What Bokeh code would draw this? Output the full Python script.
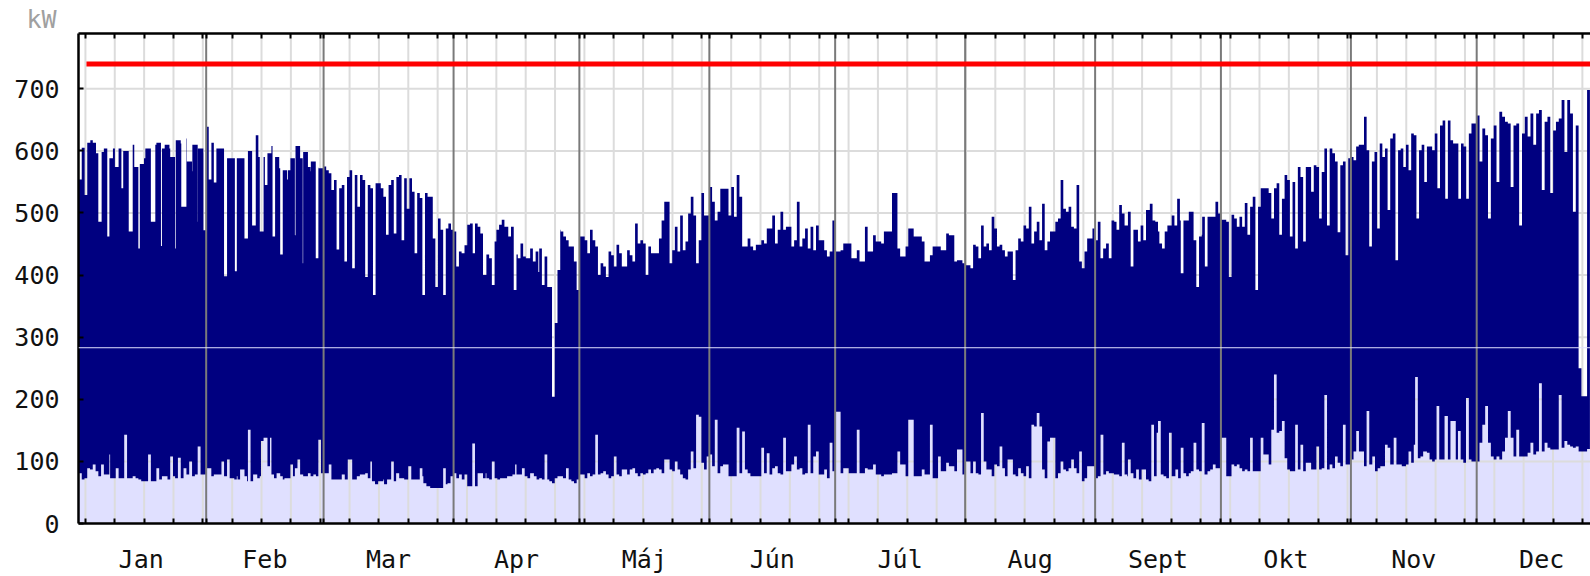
import numpy as np
from bokeh.plotting import figure
from bokeh.models import Range1d, LinearAxis, FixedTicker, Span
from bokeh.embed import file_html
from bokeh.resources import INLINE

# ---------------- data ----------------
months = ["Jan", "Feb", "Mar", "Apr", "Máj", "Jún", "Júl", "Aug", "Sept", "Okt", "Nov", "Dec"]
month_days = [31, 28, 31, 30, 31, 30, 31, 31, 30, 31, 30, 31]
# days of each month covered by the readings (December visible only to ~27th)
read_span = [31, 28, 31, 30, 31, 30, 31, 31, 30, 31, 30, 27]

max_jan = [435,554,605,529,613,617,613,596,486,598,604,462,588,604,574,604,540,600,600,470,610,574,443,579,588,604,604,486,610,613,447,604,610,604,590,443,617,612,510,620,583,567,610,486,604,596,472]
max_feb = [639,554,613,549,604,604,604,398,588,588,588,406,588,588,588,459,600,600,480,625,590,470,590,545,596,608,462,590,572,433,569,554,569,588,464,608,588,419,598,574,567,583,427,574,572,569]
max_mar = [575,569,564,537,553,441,540,545,422,558,569,411,561,510,561,553,397,545,540,368,548,548,540,526,465,545,553,467,558,561,456,556,507,556,534,435,532,524,368,532,526,526,459,381,491,473,368,475,483,473]
max_apr = [470,414,438,435,448,481,483,435,483,478,467,400,433,427,384,454,473,481,489,478,462,478,376,433,427,451,430,427,443,422,438,405,443,384,430,381,204,323,408,473,470,462,456,446,422,376,446]
max_may = [462,456,435,473,456,446,400,419,416,414,397,438,432,414,449,435,414,440,432,422,483,451,456,451,446,400,446,435,435,435,459,488,518,419,440,478,438,496,440,454,467,499,526,496,419,456,532,496,496]
max_jun = [542,518,488,502,539,539,496,542,494,561,526,518,446,446,459,446,440,449,456,451,475,475,532,496,451,473,502,473,478,446,456,518,446,459,459,475,443,478,440,480,456,440,430,438,488,488]
max_jul = [438,430,440,451,443,451,427,443,440,422,432,478,438,462,464,454,510,451,470,496,470,532,470,443,430,446,446,475,451,462,462,435,454,422,432,432,446,467,446,440,467,467,464,480,422,424,440,419]
max_aug = [416,411,449,446,427,480,446,451,451,440,494,475,446,449,440,430,438,392,440,459,454,480,475,510,451,451,470,486,456,515,440,454,470,486,491,553,507,502,510,478,513,475,545,422,411,438,459,459,475]
max_sep = [456,486,427,443,451,427,488,486,473,513,499,480,502,414,473,473,454,480,456,505,515,488,486,470,451,443,470,480,496,480,523,488,403,488,488,502,456,381,462,465,494,414,494,494,518,499,438]
max_oct = [489,486,397,497,491,478,494,478,507,516,465,510,526,376,510,540,540,532,491,540,548,465,523,561,483,553,462,550,443,574,558,454,574,534,577,574,491,566,604,480,583,604,596,583,469,577,583,432,588]
max_nov = [590,585,607,610,610,655,601,446,583,598,475,612,590,604,505,620,628,424,601,604,574,610,569,628,625,491,601,610,550,607,607,601,628,540,641,649,523,649,617,612,612,523,612,607,523,628,644,644]
max_dec = [657,583,636,625,491,620,641,550,663,655,647,644,542,641,644,480,628,655,623,660,610,660,666,537,647,655,532,633,647,652,682,598,682,660,502,641,250,205,205,698]

min_jan = [81,71,73,89,87,95,84,76,95,79,79,111,73,73,89,73,73,143,73,73,76,73,71,68,68,111,68,68,89,71,76,76,71,108,76,73,106,73,89,79,100,76,79,124,79,79]
min_feb = [89,76,79,79,79,100,76,76,103,73,71,76,71,87,76,68,151,68,79,73,76,133,138,92,138,79,73,81,76,71,73,73,95,76,89,103,79,76,76,81,76,79,76,135,81]
min_mar = [81,95,71,71,71,71,79,71,103,71,71,76,79,81,73,100,68,63,68,71,63,71,100,68,81,73,71,71,92,71,71,89,76,65,60,57,57,57,57,89,63,65,76]
min_apr = [81,73,79,71,79,60,129,60,81,81,73,81,73,71,100,73,71,73,73,76,76,79,95,79,79,89,76,73,81,76,71,73,71,111,71,68,65,73,76,76,73,89,71,68,65,71]
min_may = [79,73,81,76,79,143,79,81,87,84,79,73,76,108,79,76,87,79,87,89,81,76,81,79,79,81,87,81,87,89,87,81,103,87,84,100,87,79,73,71,178,87,116,89,175,172,98,87,108]
min_jun = [111,92,167,81,92,95,76,76,76,154,81,132,148,87,81,76,76,76,122,81,113,79,84,89,92,81,79,138,84,95,108,87,89,79,87,81,159,81,108,116,79,87,73,130,84,81]
min_jul = [180,87,81,89,81,81,81,87,151,81,81,89,87,81,95,79,130,76,79,122,79,81,89,116,95,81,76,167,76,76,76,79,87,79,73,159,73,76,108,84,87,98,92,124,84,119,92,79]
min_aug = [100,81,100,81,79,178,100,87,76,87,76,95,92,124,89,76,103,79,76,89,81,76,92,73,159,159,156,178,156,87,73,132,138,73,81,100,87,84,89,103,132,89,81,116,68,73,92,92,92]
min_sep = [73,76,143,79,84,81,79,79,76,130,79,76,103,81,73,87,71,87,71,68,159,76,146,165,79,76,73,146,76,87,73,122,81,76,81,84,130,87,84,162,79,84,87,95,89,89]
min_oct = [138,76,76,95,92,95,89,84,138,87,84,138,84,84,84,138,111,95,151,240,146,149,165,105,89,87,84,84,159,87,127,84,98,87,87,124,87,89,207,87,84,95,89,108,98,92,159,95,95]
min_nov = [103,116,149,116,92,181,95,95,108,84,89,92,127,122,95,95,138,95,95,92,95,116,98,127,236,105,108,116,114,103,100,103,189,103,103,173,103,165,165,103,149,103,98,202,103,100,100]
min_dec = [100,130,159,189,130,108,103,108,103,116,138,181,138,108,151,108,108,108,114,130,111,116,226,116,130,122,119,119,119,207,122,133,127,124,122,124,116,116,116,120]

limit_days = [2.45, 362.0]   # red limit line
limit_kw = [740, 740]
rule_kw = 283                # thin light rule
y_ticks = [0, 100, 200, 300, 400, 500, 600, 700]
week_first_day = 2.2

max_lists = [max_jan, max_feb, max_mar, max_apr, max_may, max_jun, max_jul, max_aug, max_sep, max_oct, max_nov, max_dec]
min_lists = [min_jan, min_feb, min_mar, min_apr, min_may, min_jun, min_jul, min_aug, min_sep, min_oct, min_nov, min_dec]

# ---------------- derived ----------------
month_start = list(np.cumsum([0] + month_days[:-1]).astype(float))
month_mid = [s + d / 2.0 for s, d in zip(month_start, month_days)]
weeks = [week_first_day + 7 * k for k in range(52)]


def edges_values(lists):
    e, v = [], []
    for m, vals in enumerate(lists):
        w = read_span[m] / len(vals)
        for i, val in enumerate(vals):
            e.append(month_start[m] + i * w)
            v.append(val)
    e.append(month_start[-1] + read_span[-1])
    return np.array(e), np.array(v, dtype=float)


emax, vmax = edges_values(max_lists)
emin, vmin = edges_values(min_lists)
grid = np.unique(np.round(np.concatenate([emax, emin]), 6))
left = grid[:-1]
imax = np.clip(np.searchsorted(emax, left + 1e-9, side="right") - 1, 0, len(vmax) - 1)
imin = np.clip(np.searchsorted(emin, left + 1e-9, side="right") - 1, 0, len(vmin) - 1)
hi = vmax[imax]
lo = np.minimum(vmin[imin], hi)
xs = np.repeat(grid, 2)[1:-1]
hi2 = np.repeat(hi, 2)
lo2 = np.repeat(lo, 2)

X0, X1 = 0.55, 361.14
Y0, Y1 = 0, 789

FONT = "DejaVu Sans Mono"
NAVY = "#000080"
LAV = "#E0E0FF"

p = figure(width=1590, height=576, x_range=Range1d(X0, X1), y_range=Range1d(Y0, Y1),
           output_backend="svg", toolbar_location=None,
           x_axis_location=None, y_axis_location=None,
           min_border_left=78, min_border_right=0, min_border_top=33, min_border_bottom=52)
p.outline_line_color = None
p.xgrid.visible = False
p.ygrid.visible = False
p.background_fill_color = "white"
p.border_fill_color = "white"

# "kW" unit label at the top-left
p.title.text = "kW"
p.title.text_font = FONT
p.title.text_font_size = "25px"
p.title.text_font_style = "normal"
p.title.text_color = "#A0A0A0"
p.title.align = "left"
p.title.offset = -52
p.title.standoff = 0

# lavender base area (0 -> min)
p.varea(x=xs, y1=0, y2=lo2, fill_color=LAV)

# light grid
p.segment(x0=weeks, x1=weeks, y0=[Y0] * len(weeks), y1=[Y1] * len(weeks),
          line_color="#DCDCDC", line_width=2)
p.segment(x0=[X0] * len(y_ticks), x1=[X1] * len(y_ticks), y0=y_ticks, y1=y_ticks,
          line_color="#DCDCDC", line_width=2)

# navy band (min -> max)
p.varea(x=xs, y1=lo2, y2=hi2, fill_color=NAVY)

# month separators
p.segment(x0=month_start[1:], x1=month_start[1:], y0=[Y0] * 11, y1=[Y1] * 11,
          line_color="#7A7A7A", line_width=2)

# thin light rule and red limit
p.add_layout(Span(location=rule_kw, dimension="width", line_color=LAV, line_width=1))
p.line(x=limit_days, y=limit_kw, line_color="#FF0000", line_width=5)

# axes
yax = LinearAxis(ticker=FixedTicker(ticks=y_ticks),
                 major_tick_in=5, major_tick_out=0, minor_tick_in=0, minor_tick_out=0,
                 axis_line_color="black", axis_line_width=2.5,
                 major_tick_line_color="black", major_tick_line_width=2,
                 major_label_text_font=FONT, major_label_text_font_size="25px",
                 major_label_text_color="#111111", major_label_standoff=19)
p.add_layout(yax, "left")

bx = LinearAxis(ticker=FixedTicker(ticks=month_mid, minor_ticks=weeks + month_start),
                major_label_overrides={m: n for m, n in zip(month_mid, months)},
                major_tick_in=0, major_tick_out=0, minor_tick_in=5, minor_tick_out=0,
                axis_line_color="black", axis_line_width=2.5,
                minor_tick_line_color="black", minor_tick_line_width=2,
                major_label_text_font=FONT, major_label_text_font_size="25px",
                major_label_text_color="#111111", major_label_standoff=21)
p.add_layout(bx, "below")

tx = LinearAxis(ticker=FixedTicker(ticks=[], minor_ticks=weeks + month_start),
                major_tick_in=0, major_tick_out=0, minor_tick_in=5, minor_tick_out=0,
                axis_line_color="black", axis_line_width=2.5,
                minor_tick_line_color="black", minor_tick_line_width=2,
                major_label_standoff=0)
p.add_layout(tx, "above")

open("out.html", "w").write(file_html(p, INLINE))
